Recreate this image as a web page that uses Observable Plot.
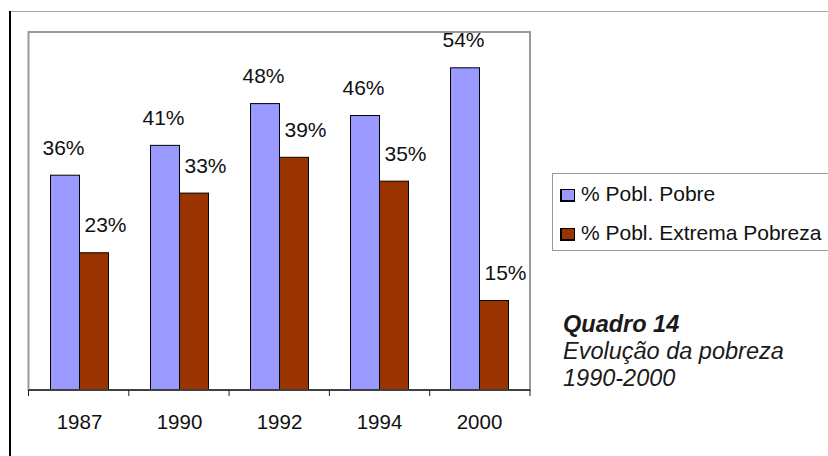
<!DOCTYPE html>
<html>
<head>
<meta charset="utf-8">
<script src="https://cdn.jsdelivr.net/npm/d3@7"></script>
<script src="https://cdn.jsdelivr.net/npm/@observablehq/plot@0.6"></script>
<style>
  html, body { margin: 0; padding: 0; background: #fff; }
  #wrap { position: relative; width: 828px; height: 456px; overflow: hidden; font-family: "Liberation Sans", Arial, sans-serif; color: #111; }
  #chart { position: absolute; left: 0; top: 0; }
  #chart svg text { font-family: "Liberation Sans", Arial, sans-serif; }
  #chart g[aria-label="fx-axis"] text, #chart g[aria-label="fx-axis tick label"] text { font-size: 20.5px !important; fill: #111; }
  .topline { position: absolute; left: 9px; top: 11px; width: 819px; height: 0; border-top: 1px solid #aaa; }
  .leftline { position: absolute; left: 9px; top: 11px; width: 2px; height: 445px; background: #000; }
  .legend { position: absolute; left: 552px; top: 173px; width: 300px; height: 78px; border: 1px solid #999; box-sizing: border-box; }
  .item { position: absolute; left: 7px; font-size: 21px; line-height: 21px; white-space: nowrap; }
  .sw { display: inline-block; width: 12px; height: 10px; border: 1px solid #000; border-left-width: 2px; border-bottom-width: 2px; margin-right: 6px; vertical-align: -1px; }
  .caption { position: absolute; left: 563px; top: 311px; font-size: 23.5px; line-height: 27px; font-style: italic; color: #1a1a1a; }
  .caption b { font-weight: bold; }
</style>
</head>
<body>
<div id="wrap">
  <div id="chart"></div>
  <div class="topline"></div>
  <div class="leftline"></div>
  <div class="legend" id="legend"></div>
  <div class="caption"><b>Quadro 14</b><br>Evolução da pobreza<br>1990-2000</div>
</div>
<script>
const years = ["1987", "1990", "1992", "1994", "2000"];
const pobre = [36, 41, 48, 46, 54];
const extrema = [23, 33, 39, 35, 15];
const seriesNames = ["% Pobl. Pobre", "% Pobl. Extrema Pobreza"];
const colors = ["#9999ff", "#993300"];

const data = years.flatMap((yr, i) => [
  {year: yr, series: seriesNames[0], value: pobre[i]},
  {year: yr, series: seriesNames[1], value: extrema[i]}
]);

const labelFor = s => d => d.series === s ? d.value + "%" : null;

const plot = Plot.plot({
  width: 828,
  height: 456,
  marginLeft: 28.5,
  marginRight: 298,
  marginTop: 32,
  marginBottom: 66,
  style: {fontFamily: "Liberation Sans, Arial, sans-serif", background: "transparent"},
  facet: {data, x: "year"},
  fx: {domain: years, padding: 0, axis: "bottom", tickSize: 0, tickPadding: 24, label: null},
  x: {domain: seriesNames, paddingInner: 0, paddingOuter: 0.667, axis: null},
  y: {domain: [0, 60], axis: null},
  color: {domain: seriesNames, range: colors},
  marks: [
    Plot.barY(data, {x: "series", y: "value", fill: "series", stroke: "#000", strokeWidth: 1}),
    Plot.text(data, {x: "series", y: "value", text: labelFor(seriesNames[0]), dy: -21, dx: -2, lineAnchor: "bottom", fontSize: 21, fill: "#111"}),
    Plot.text(data, {x: "series", y: "value", text: labelFor(seriesNames[1]), dy: -21, dx: 11, lineAnchor: "bottom", fontSize: 21, fill: "#111"})
  ]
});
document.getElementById("chart").appendChild(plot);

// frame, baseline and boundary ticks drawn from the plot's own scales
const fxs = plot.scale("fx");
const ys = plot.scale("y");
const band = d3.scaleBand(fxs.domain, fxs.range).paddingInner(0).paddingOuter(0);
const x0 = fxs.range[0], x1 = fxs.range[1];
const yb = Math.max(...ys.range), yt = Math.min(...ys.range);
const svg = d3.select(plot);
svg.append("rect")
  .attr("x", x0).attr("y", yt).attr("width", x1 - x0).attr("height", yb - yt)
  .attr("fill", "none").attr("stroke", "#9a9a9a").attr("stroke-width", 2);
svg.append("line")
  .attr("x1", x0).attr("x2", x1).attr("y1", yb).attr("y2", yb)
  .attr("stroke", "#222").attr("stroke-width", 1.5);
const bounds = years.map(y => band(y)).concat([x1]);
svg.append("g").selectAll("line").data(bounds).join("line")
  .attr("x1", d => d).attr("x2", d => d).attr("y1", yb).attr("y2", yb + 6)
  .attr("stroke", "#222").attr("stroke-width", 1);

// legend
const leg = document.getElementById("legend");
seriesNames.forEach((s, i) => {
  const it = document.createElement("div");
  it.className = "item";
  it.style.top = (i === 0 ? 9 : 48) + "px";
  const sw = document.createElement("span");
  sw.className = "sw";
  sw.style.background = colors[i];
  it.appendChild(sw);
  it.appendChild(document.createTextNode(s));
  leg.appendChild(it);
});
</script>
</body>
</html>
